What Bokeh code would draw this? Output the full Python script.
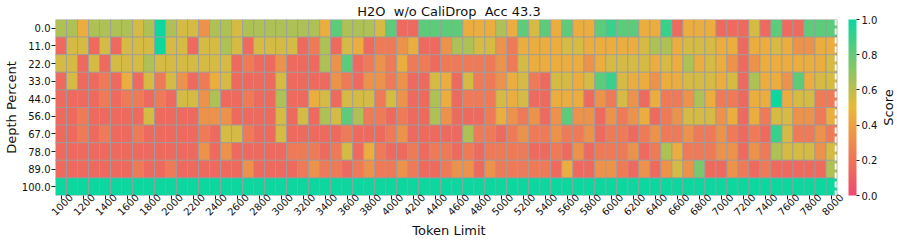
import math
from bokeh.plotting import figure
from bokeh.layouts import row
from bokeh.models import (LinearColorMapper, ColorBar, FixedTicker, Span, Label,
                          ColumnDataSource, Range1d, PrintfTickFormatter, LinearAxis)
from bokeh.embed import file_html
from bokeh.resources import INLINE

# ---------------- data ----------------
token_limits = list(range(1000, 8001, 100))
depth_percents = ["0.0", "11.0", "22.0", "33.0", "44.0", "56.0", "67.0", "78.0", "89.0", "100.0"]

row_00 = [0.64,0.64,0.45,0.64,0.64,0.64,0.64,0.55,0.64,1.0,
          0.64,0.55,0.55,0.33,0.64,0.64,0.55,0.64,0.64,0.64,
          0.64,0.64,0.64,0.64,0.45,0.82,0.64,0.64,0.64,0.55,
          0.82,0.15,0.15,0.82,0.82,0.82,0.82,0.45,0.45,0.45,
          0.64,0.45,0.82,0.55,0.82,0.45,0.82,0.45,0.45,0.82,
          0.9,0.82,0.82,0.45,0.45,0.9,0.15,0.45,0.45,0.45,
          0.15,0.15,0.15,0.55,0.15,0.82,0.15,0.15,0.82,0.82,
          0.82]
row_11 = [0.15,0.55,0.55,0.15,0.55,0.15,0.55,0.55,0.55,1.0,
          0.55,0.55,0.15,0.55,0.55,0.64,0.55,0.15,0.55,0.55,
          0.55,0.55,0.15,0.22,0.64,0.15,0.55,0.45,0.15,0.22,
          0.22,0.33,0.45,0.15,0.15,0.33,0.64,0.64,0.55,0.55,
          0.33,0.22,0.45,0.45,0.45,0.45,0.55,0.55,0.45,0.45,
          0.45,0.45,0.45,0.55,0.64,0.64,0.45,0.55,0.55,0.55,
          0.45,0.45,0.15,0.45,0.45,0.55,0.45,0.33,0.33,0.45,
          0.45]
row_22 = [0.55,0.55,0.15,0.55,0.15,0.55,0.55,0.55,0.64,0.55,
          0.55,0.55,0.55,0.55,0.55,0.55,0.15,0.22,0.15,0.15,
          0.33,0.15,0.15,0.15,0.64,0.33,0.82,0.15,0.22,0.33,
          0.22,0.45,0.22,0.22,0.15,0.22,0.22,0.22,0.22,0.22,
          0.33,0.22,0.55,0.45,0.45,0.45,0.45,0.45,0.33,0.45,
          0.55,0.55,0.55,0.55,0.45,0.55,0.45,0.64,0.45,0.55,
          0.45,0.33,0.15,0.33,0.45,0.45,0.45,0.45,0.45,0.45,
          0.55]
row_33 = [0.15,0.55,0.15,0.15,0.22,0.15,0.45,0.15,0.55,0.22,
          0.55,0.33,0.15,0.22,0.45,0.55,0.15,0.15,0.15,0.15,
          0.55,0.15,0.15,0.15,0.15,0.33,0.22,0.15,0.33,0.33,
          0.22,0.33,0.15,0.15,0.55,0.45,0.15,0.55,0.22,0.22,
          0.33,0.45,0.55,0.22,0.15,0.55,0.55,0.45,0.55,0.82,
          0.9,0.55,0.45,0.45,0.33,0.45,0.45,0.55,0.55,0.55,
          0.45,0.55,0.15,0.64,0.45,0.45,0.33,0.82,0.45,0.55,
          0.55]
row_44 = [0.15,0.15,0.15,0.15,0.22,0.15,0.22,0.22,0.15,0.22,
          0.15,0.55,0.55,0.33,0.64,0.15,0.15,0.22,0.15,0.15,
          0.64,0.15,0.15,0.45,0.55,0.15,0.55,0.55,0.55,0.22,
          0.55,0.33,0.15,0.15,0.64,0.45,0.15,0.22,0.22,0.22,
          0.55,0.45,0.55,0.15,0.15,0.45,0.45,0.45,0.15,0.33,
          0.22,0.55,0.33,0.15,0.45,0.22,0.22,0.33,0.64,0.45,
          0.22,0.22,0.15,0.45,0.45,1.0,0.45,0.55,0.55,0.22,
          0.22]
row_56 = [0.15,0.15,0.22,0.15,0.15,0.15,0.15,0.15,0.55,0.15,
          0.15,0.15,0.15,0.33,0.33,0.33,0.15,0.15,0.15,0.15,
          0.55,0.15,0.55,0.15,0.64,0.55,0.82,0.64,0.22,0.22,
          0.15,0.22,0.15,0.15,0.64,0.33,0.15,0.15,0.15,0.22,
          0.45,0.33,0.22,0.33,0.15,0.33,0.82,0.33,0.33,0.15,
          0.33,0.22,0.33,0.45,0.15,0.22,0.33,0.55,0.55,0.55,
          0.33,0.45,0.15,0.45,0.22,0.55,0.55,0.33,0.33,0.22,
          0.45]
row_67 = [0.15,0.15,0.22,0.15,0.22,0.15,0.15,0.22,0.15,0.15,
          0.15,0.15,0.15,0.22,0.15,0.55,0.55,0.22,0.15,0.15,
          0.55,0.15,0.15,0.15,0.15,0.15,0.22,0.15,0.15,0.15,
          0.22,0.33,0.15,0.15,0.15,0.15,0.15,0.64,0.22,0.22,
          0.15,0.22,0.33,0.22,0.22,0.33,0.22,0.22,0.33,0.15,
          0.22,0.22,0.15,0.22,0.33,0.22,0.22,0.33,0.22,0.22,
          0.33,0.22,0.15,0.22,0.15,0.9,0.55,0.22,0.22,0.33,
          0.22]
row_78 = [0.15,0.15,0.15,0.15,0.15,0.15,0.15,0.15,0.15,0.15,
          0.15,0.15,0.15,0.33,0.15,0.33,0.15,0.15,0.15,0.15,
          0.15,0.22,0.22,0.22,0.15,0.22,0.55,0.15,0.45,0.22,
          0.15,0.15,0.22,0.15,0.22,0.22,0.15,0.22,0.15,0.22,
          0.22,0.22,0.22,0.15,0.15,0.22,0.15,0.33,0.15,0.22,
          0.22,0.22,0.33,0.15,0.22,0.64,0.45,0.22,0.22,0.22,
          0.33,0.33,0.15,0.33,0.22,0.64,0.55,0.55,0.55,0.33,
          0.55]
row_89 = [0.15,0.15,0.15,0.15,0.15,0.15,0.15,0.22,0.15,0.15,
          0.22,0.15,0.15,0.15,0.15,0.15,0.15,0.33,0.15,0.15,
          0.15,0.15,0.22,0.33,0.22,0.22,0.15,0.22,0.33,0.22,
          0.22,0.33,0.22,0.15,0.15,0.22,0.33,0.33,0.15,0.33,
          0.22,0.22,0.22,0.22,0.22,0.15,0.45,0.15,0.15,0.33,
          0.33,0.22,0.15,0.33,0.15,0.33,0.55,0.33,0.75,0.15,
          0.15,0.33,0.22,0.15,0.22,0.15,0.15,0.15,0.15,0.15,
          0.64]
row_100 = [1.0] * 71

scores = [row_00, row_11, row_22, row_33, row_44, row_56, row_67, row_78, row_89, row_100]
colorbar_ticks = [0.0, 0.2, 0.4, 0.6, 0.8, 1.0]
title_text = "H2O \u00a0w/o CaliDrop \u00a0Acc 43.3"

# ---------------- colour map ----------------
anchors = ["#F0496E", "#EBB839", "#0CD79F"]
def _rgb(h):
    return [int(h[k:k + 2], 16) for k in (1, 3, 5)]
palette = []
N = 256
for k in range(N):
    t = k / (N - 1) * 2
    seg = min(int(t), 1)
    f = t - seg
    a, b = _rgb(anchors[seg]), _rgb(anchors[seg + 1])
    palette.append("#%02x%02x%02x" % tuple(round(a[c] + (b[c] - a[c]) * f) for c in range(3)))
mapper = LinearColorMapper(palette=palette, low=0.0, high=1.0)

xs, ys, vs = [], [], []
for j, rw in enumerate(scores):
    for i, v in enumerate(rw):
        xs.append(i + 0.5)
        ys.append(j + 0.5)
        vs.append(v)
src = ColumnDataSource(dict(x=xs, y=ys, v=vs))

FONT = "DejaVu Sans"
ncol = len(token_limits)
nrow = len(depth_percents)
xpad = 0.5          # invisible room right of the last column for the centred last label
FH = 176            # frame height (px)

p = figure(frame_width=787, frame_height=FH,
           x_range=Range1d(0, ncol + xpad), y_range=Range1d(nrow, 0),
           output_backend="svg", toolbar_location=None,
           min_border_left=0, min_border_right=4, min_border_top=0, min_border_bottom=0)

p.rect(x="x", y="y", width=1, height=1, source=src,
       fill_color={"field": "v", "transform": mapper},
       line_color="#9c9c9c", line_width=0.8)

p.add_layout(Span(location=ncol - 0.12, dimension="height", line_color="white",
                  line_width=2, line_dash="6 3"))

p.xgrid.visible = False
p.ygrid.visible = False
p.outline_line_color = None
p.background_fill_color = "white"

# x axis: tick marks only
xt = [i + 0.5 for i in range(0, ncol, 2)]
p.xaxis.ticker = FixedTicker(ticks=xt)
p.xaxis.major_label_overrides = {t: "" for t in xt}
p.xaxis.major_label_text_font_size = "10px"
p.xaxis.major_label_standoff = 0

# second x axis: rotated labels centred on their ticks (matplotlib style)
shift = 0.9
xl = [i + 0.5 + shift for i in range(0, ncol, 2)]
lab_axis = LinearAxis(ticker=FixedTicker(ticks=xl),
                      major_label_overrides={xl[k]: str(token_limits[2 * k]) for k in range(len(xl))})
p.add_layout(lab_axis, "below")
lab_axis.major_label_orientation = math.pi / 4
lab_axis.major_tick_out = 0
lab_axis.major_tick_in = 0
lab_axis.major_tick_line_color = None
lab_axis.major_label_standoff = -4

yt = [j + 0.5 for j in range(nrow)]
p.yaxis.ticker = FixedTicker(ticks=yt)
p.yaxis.major_label_overrides = {j + 0.5: depth_percents[j] for j in range(nrow)}

for ax in (p.xaxis[0], lab_axis, p.yaxis[0]):
    ax.axis_line_color = None
    ax.minor_tick_line_color = None
    ax.major_label_text_font = FONT
    ax.major_label_text_color = "#111111"
    ax.axis_label_text_font = FONT
    ax.axis_label_text_font_size = "13px"
    ax.axis_label_text_font_style = "normal"
    ax.axis_label_text_color = "#111111"
    ax.axis_label_standoff = 1
for ax in (p.xaxis[0], p.yaxis[0]):
    ax.major_tick_in = 0
    ax.major_tick_out = 4
    ax.major_tick_line_color = "#222222"
lab_axis.major_label_text_font_size = "10px"
p.yaxis.major_label_text_font_size = "10px"
p.yaxis.major_label_standoff = 1
p.yaxis.axis_label_standoff = 0
lab_axis.axis_label = "Token Limit"
p.yaxis.axis_label = "Depth Percent"

p.title.text = title_text
p.title.align = "center"
p.title.text_font = FONT
p.title.text_font_size = "13px"
p.title.text_font_style = "normal"
p.title.text_color = "#111111"
p.title.standoff = 2

# companion figure (its frame is aligned with the heat-map frame by the row layout)
W2 = 49
p2 = figure(width=W2, frame_height=FH, x_range=Range1d(0, W2), y_range=Range1d(0, 1),
            output_backend="svg", toolbar_location=None,
            min_border_left=0, min_border_right=0, min_border_top=10, min_border_bottom=45)
p2.axis.visible = False
p2.grid.visible = False
p2.outline_line_color = None
p2.background_fill_color = None
p2.border_fill_color = None

cb = ColorBar(color_mapper=mapper, width=8, height=FH, padding=0, margin=0,
              location=(2, 0),
              ticker=FixedTicker(ticks=colorbar_ticks),
              formatter=PrintfTickFormatter(format="%.1f"),
              major_tick_in=0, major_tick_out=3, major_tick_line_color="#222222",
              major_label_text_font=FONT, major_label_text_font_size="10px",
              major_label_text_color="#111111", label_standoff=2,
              bar_line_color=None, border_line_color=None, background_fill_color=None)
p2.add_layout(cb, "center")

p2.add_layout(Label(x=42, y=0.5, text="Score", angle=90, angle_units="deg",
                    text_align="center", text_baseline="middle", text_font=FONT,
                    text_font_size="13px", text_color="#111111"))

layout = row(p, p2, spacing=0)
open("out.html", "w").write(file_html(layout, INLINE))
